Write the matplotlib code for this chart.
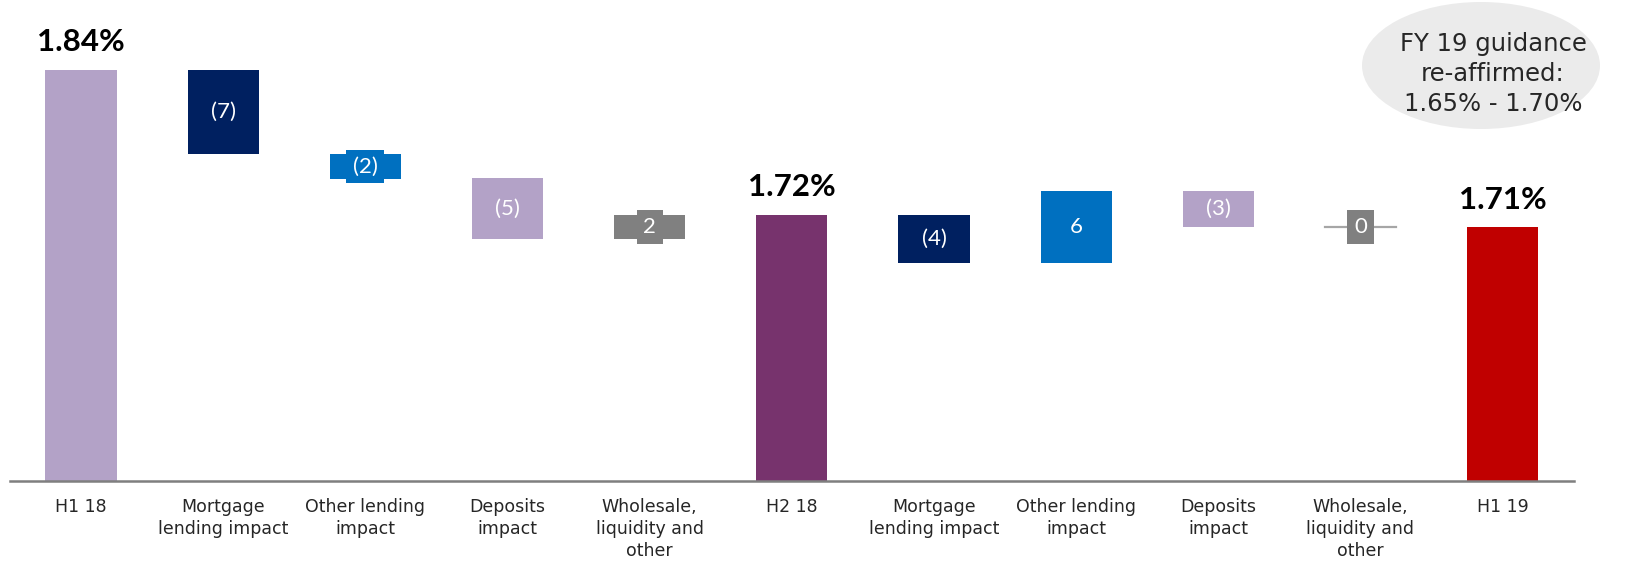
import matplotlib
matplotlib.use("Agg")
import matplotlib.pyplot as plt
from matplotlib.patches import Ellipse

categories = ["H1 18", "Mortgage\nlending impact", "Other lending\nimpact", "Deposits\nimpact",
              "Wholesale,\nliquidity and\nother", "H2 18", "Mortgage\nlending impact",
              "Other lending\nimpact", "Deposits\nimpact", "Wholesale,\nliquidity and\nother", "H1 19"]
kinds = ["total", "delta", "delta", "delta", "delta", "total", "delta", "delta", "delta", "delta", "total"]
values = [1.84, -7, -2, -5, 2, 1.72, -4, 6, -3, 0, 1.71]   # totals in %, deltas in bps
total_labels = ["1.84%", "1.72%", "1.71%"]
guidance_text = "FY 19 guidance\nre-affirmed:\n1.65% - 1.70%"
y_base = 1.50

total_colors = ["#b3a2c7", "#77336d", "#c00000"]
driver_colors = ["#002060", "#0070c0", "#b3a2c7", "#808080"]

plt.rcParams["font.family"] = ["DejaVu Sans"]

W, H = 1628, 561
fig = plt.figure(figsize=(W / 100, H / 100), dpi=100)
ax_left = 9.9 / W
ax_right = 1573.7 / W
ax_bottom = (H - 481) / H
ax = fig.add_axes([ax_left, ax_bottom, ax_right - ax_left, 1 - ax_bottom])
y_top = y_base + 481 / 1210.0
ax.set_xlim(-0.5, 10.5)
ax.set_ylim(y_base, y_top)

bw = 0.5
level = None
ti = 0
di = 0
for i, (k, v) in enumerate(zip(kinds, values)):
    if k == "total":
        level = v
        ax.bar(i, v - y_base, bottom=y_base, width=bw, color=total_colors[ti], zorder=2)
        ax.text(i, v + 0.011, total_labels[ti], ha="center", va="bottom", fontsize=22.5,
                fontweight="bold", color="black", family=["Lato", "DejaVu Sans"], zorder=4)
        ti += 1
    else:
        col = driver_colors[di % 4]
        d = v / 100.0
        new = level + d
        lo, hi = min(level, new), max(level, new)
        mid = (lo + hi) / 2
        if v == 0:
            ax.plot([i - bw / 2, i + bw / 2], [level, level], color="#a6a6a6", lw=1.6, zorder=2)
        else:
            ax.bar(i, hi - lo, bottom=lo, width=bw, color=col, zorder=2)
        lab = f"({abs(v)})" if v < 0 else f"{v}"
        small = (hi - lo) * 1210 < 38
        bbox = dict(boxstyle="square,pad=0.30", fc=col, ec="none") if small else None
        ax.text(i, mid, lab, ha="center", va="center", fontsize=16, color="white",
                fontweight="normal", family=["Lato", "DejaVu Sans"], bbox=bbox, zorder=5)
        level = new
        di += 1

ax.set_xticks(range(len(categories)))
ax.set_xticklabels(categories, fontsize=12.5, color="#262626", linespacing=1.3)
ax.tick_params(axis="x", length=0, pad=12)
ax.set_yticks([])
for s in ["top", "left", "right"]:
    ax.spines[s].set_visible(False)
ax.spines["bottom"].set_color("#7f7f7f")
ax.spines["bottom"].set_linewidth(1.8)
ax.spines["bottom"].set_zorder(3)

ell = Ellipse((1481 / W, 1 - 65.5 / H), 238 / W, 127 / H, transform=fig.transFigure,
              facecolor="#ebebeb", edgecolor="none", zorder=1)
fig.patches.append(ell)
fig.text(1493 / W, 1 - 74 / H, guidance_text, ha="center", va="center", fontsize=17.5,
         color="#262626", linespacing=1.32)

fig.savefig("out.png", dpi=100)
